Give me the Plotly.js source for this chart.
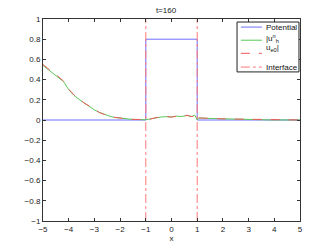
<!DOCTYPE html>
<html><head><meta charset="utf-8">
<script src="https://cdn.plot.ly/plotly-3.0.1.min.js"></script>
<style>html,body{margin:0;padding:0;background:#fff}#plot{width:332px;height:250px}</style>
</head><body><div id="plot"></div>
<script>
var potX = [-5, -1, -1, 1, 1, 5];
var potY = [0, 0, 0.8, 0.8, 0, 0];
var solX = [-5, -4.8, -4.6, -4.4, -4.2, -4.0, -3.8, -3.6, -3.4, -3.2, -3.0, -2.8, -2.6, -2.4, -2.2, -2.0, -1.8, -1.6, -1.4, -1.2, -1.0, -0.8, -0.6, -0.4, -0.2, 0, 0.2, 0.4, 0.6, 0.8, 0.9, 1.0, 1.05, 1.2, 1.4, 1.6, 1.8, 2.0, 2.2, 2.4, 2.6, 2.8, 3.0, 3.4, 3.8, 4.2, 4.6, 5];
var numY = [0.54, 0.50, 0.46, 0.425, 0.38, 0.30, 0.245, 0.205, 0.17, 0.135, 0.10, 0.075, 0.052, 0.037, 0.025, 0.017, 0.012, 0.008, 0.005, 0.003, 0.002, 0.012, 0.022, 0.030, 0.033, 0.030, 0.038, 0.035, 0.045, 0.035, 0.050, 0.0, 0.020, 0.020, 0.018, 0.015, 0.013, 0.012, 0.010, 0.008, 0.006, 0.004, 0.003, 0.002, 0.001, 0.0005, 0.0003, 0.0002];
var exY = [0.55, 0.505, 0.465, 0.43, 0.385, 0.305, 0.25, 0.21, 0.168, 0.138, 0.102, 0.073, 0.054, 0.036, 0.026, 0.016, 0.013, 0.007, 0.006, 0.002, 0.003, 0.010, 0.024, 0.028, 0.035, 0.028, 0.040, 0.033, 0.047, 0.032, 0.046, 0.002, 0.021, 0.019, 0.019, 0.014, 0.014, 0.011, 0.010, 0.007, 0.006, 0.004, 0.003, 0.002, 0.001, 0.0005, 0.0003, 0.0002];
var ifaceX = [-1, -1, null, 1, 1];
var ifaceY = [-1, 1, null, -1, 1];
var xTicks = [-5, -4, -3, -2, -1, 0, 1, 2, 3, 4, 5];
var xTickText = ['\u22125', '\u22124', '\u22123', '\u22122', '\u22121', '0', '1', '2', '3', '4', '5'];
var yTicks = [-1, -0.8, -0.6, -0.4, -0.2, 0, 0.2, 0.4, 0.6, 0.8, 1];
var yTickText = ['\u22121', '\u22120.8', '\u22120.6', '\u22120.4', '\u22120.2', '0', '0.2', '0.4', '0.6', '0.8', '1'];
var seriesNames = ['Potential', '|u<sup>n</sup><sub>h</sub>', 'u<sub>e</sub><sub>0</sub>|', 'Interface'];

var cBlue = 'rgb(110,110,255)', cGreen = 'rgb(90,200,90)', cRed = 'rgb(240,90,90)', cIface = 'rgb(255,120,120)';
var traces = [
  {x: potX, y: potY, mode: 'lines', name: seriesNames[0], line: {color: cBlue, width: 1}, showlegend: false},
  {x: solX, y: numY, mode: 'lines', name: seriesNames[1], line: {color: cGreen, width: 1}, showlegend: false},
  {x: solX, y: exY, mode: 'lines', name: seriesNames[2], line: {color: cRed, width: 1, dash: 'dash'}, showlegend: false},
  {x: ifaceX, y: ifaceY, mode: 'lines', name: seriesNames[3], line: {color: cIface, width: 1, dash: 'dashdot'}, showlegend: false}
];
var fnt = {family: 'Liberation Sans, Arial, sans-serif', size: 8, color: '#222'};
var axisCommon = {showgrid: false, zeroline: false, showline: true, mirror: 'ticks', linecolor: '#333', linewidth: 1,
  ticks: 'inside', ticklen: 3, tickcolor: '#333', tickfont: fnt};

// manual legend (paper coordinates)
var lg = {x0: 0.755, x1: 0.996, y0: 0.738, y1: 0.985, sx0: 0.77, sx1: 0.852, tx: 0.858};
var rowY = [0.96, 0.895, 0.83, 0.762];
var rowStyle = [{color: cBlue, dash: 'solid'}, {color: cGreen, dash: 'solid'}, {color: cRed, dash: 'dash'}, {color: cIface, dash: 'dashdot'}];
var labelY = [0.96, 0.905, 0.855, 0.762];
var shapes = [{type: 'rect', xref: 'paper', yref: 'paper', x0: lg.x0, x1: lg.x1, y0: lg.y0, y1: lg.y1,
  line: {color: '#222', width: 1}, fillcolor: '#fff', layer: 'above'}];
var annotations = [];
for (var i = 0; i < 4; i++) {
  shapes.push({type: 'line', xref: 'paper', yref: 'paper', x0: lg.sx0, x1: lg.sx1, y0: rowY[i], y1: rowY[i],
    line: {color: rowStyle[i].color, width: 1, dash: rowStyle[i].dash}, layer: 'above'});
  annotations.push({xref: 'paper', yref: 'paper', x: lg.tx, y: labelY[i], xanchor: 'left', yanchor: 'middle',
    text: seriesNames[i], showarrow: false, font: {family: fnt.family, size: 8, color: '#111'}});
}

var layout = {
  width: 332, height: 250,
  margin: {l: 43, r: 32, t: 19, b: 29},
  paper_bgcolor: '#fff', plot_bgcolor: '#fff',
  title: {text: 't=160', font: fnt, x: 0.5, xanchor: 'center', y: 0.96, yanchor: 'middle'},
  xaxis: Object.assign({}, axisCommon, {range: [-5, 5], tickvals: xTicks, ticktext: xTickText,
    title: {text: 'x', font: fnt, standoff: 2}}),
  yaxis: Object.assign({}, axisCommon, {range: [-1, 1], tickvals: yTicks, ticktext: yTickText}),
  showlegend: false,
  shapes: shapes,
  annotations: annotations
};
Plotly.newPlot('plot', traces, layout, {displayModeBar: false, staticPlot: true});
</script>
</body></html>
